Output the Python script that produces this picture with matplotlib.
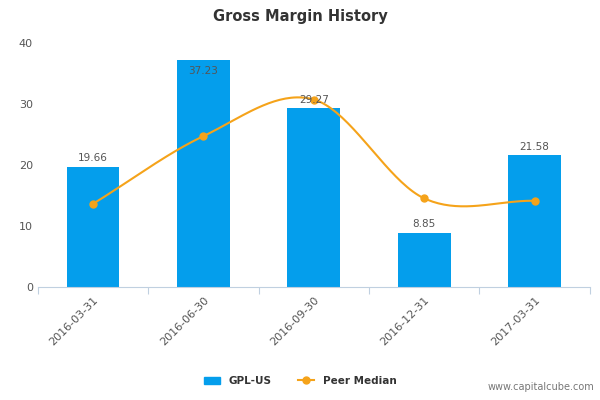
import numpy as np
import matplotlib
matplotlib.use("Agg")
import matplotlib.pyplot as plt
from matplotlib.lines import Line2D
from matplotlib.patches import Patch

categories = ["2016-03-31", "2016-06-30", "2016-09-30", "2016-12-31", "2017-03-31"]
gpl_values = [19.66, 37.23, 29.27, 8.85, 21.58]
peer_median = [13.6, 24.7, 30.7, 14.5, 14.1]
yticks = [0, 10, 20, 30, 40]

bar_color = "#049EEC"
line_color = "#F5A31A"

fig = plt.figure(figsize=(6, 4), dpi=100)
ax = fig.add_axes([0.063, 0.283, 0.92, 0.61])
x = np.arange(len(categories))
ax.bar(x, gpl_values, width=0.48, color=bar_color, zorder=2)
for xi, v in zip(x, gpl_values):
    inside = v > 30
    ax.text(xi, v - 1.0 if inside else v + 0.6, f"{v:.2f}", ha="center",
            va="top" if inside else "bottom", fontsize=7.5, color="#555555", zorder=5)

# smooth curve (cubic Hermite through points, Catmull-Rom style tangents)
px = np.array(x, float); py = np.array(peer_median, float)
m = np.gradient(py, px)
xs, ys = [], []
for i in range(len(px) - 1):
    t = np.linspace(0, 1, 40)
    h00 = 2*t**3 - 3*t**2 + 1; h10 = t**3 - 2*t**2 + t
    h01 = -2*t**3 + 3*t**2; h11 = t**3 - t**2
    xs.extend(px[i] + t); ys.extend(h00*py[i] + h10*m[i] + h01*py[i+1] + h11*m[i+1])
ax.plot(xs, ys, color=line_color, lw=1.5, zorder=3)
ax.plot(px, py, "o", color=line_color, ms=5, zorder=4)

ax.set_xlim(-0.5, len(categories) - 0.5)
ax.set_ylim(0, 40)
ax.set_yticks(yticks)
ax.set_xticks(np.arange(-0.5, len(categories), 1), minor=False)
ax.set_xticklabels([])
ax.set_xticks(x, minor=True)
ax.set_xticklabels(categories, minor=True, rotation=45, ha="right", rotation_mode="anchor",
                   fontsize=8, color="#555555")
ax.tick_params(axis="x", which="minor", length=0, pad=6)
ax.tick_params(axis="x", which="major", length=5, color="#C0D0E0")
ax.tick_params(axis="y", length=0, labelsize=8, labelcolor="#555555")
for s in ["top", "right", "left"]:
    ax.spines[s].set_visible(False)
ax.spines["bottom"].set_color("#C0D0E0")

fig.text(0.5, 0.96, "Gross Margin History", ha="center", va="center",
         fontsize=10.5, fontweight="bold", color="#333333")
handles = [Patch(color=bar_color, label="GPL-US"),
           Line2D([0], [0], color=line_color, marker="o", ms=5, lw=1.5, label="Peer Median")]
leg = fig.legend(handles=handles, loc="center", bbox_to_anchor=(0.5, 0.048), ncol=2,
                 frameon=False, prop={"size": 7.5, "weight": "bold"}, handlelength=1.6,
                 columnspacing=2.5)
for t in leg.get_texts():
    t.set_color("#333333")
fig.text(0.99, 0.02, "www.capitalcube.com", ha="right", va="bottom", fontsize=7, color="#777777")
fig.savefig("out.png", dpi=100)
